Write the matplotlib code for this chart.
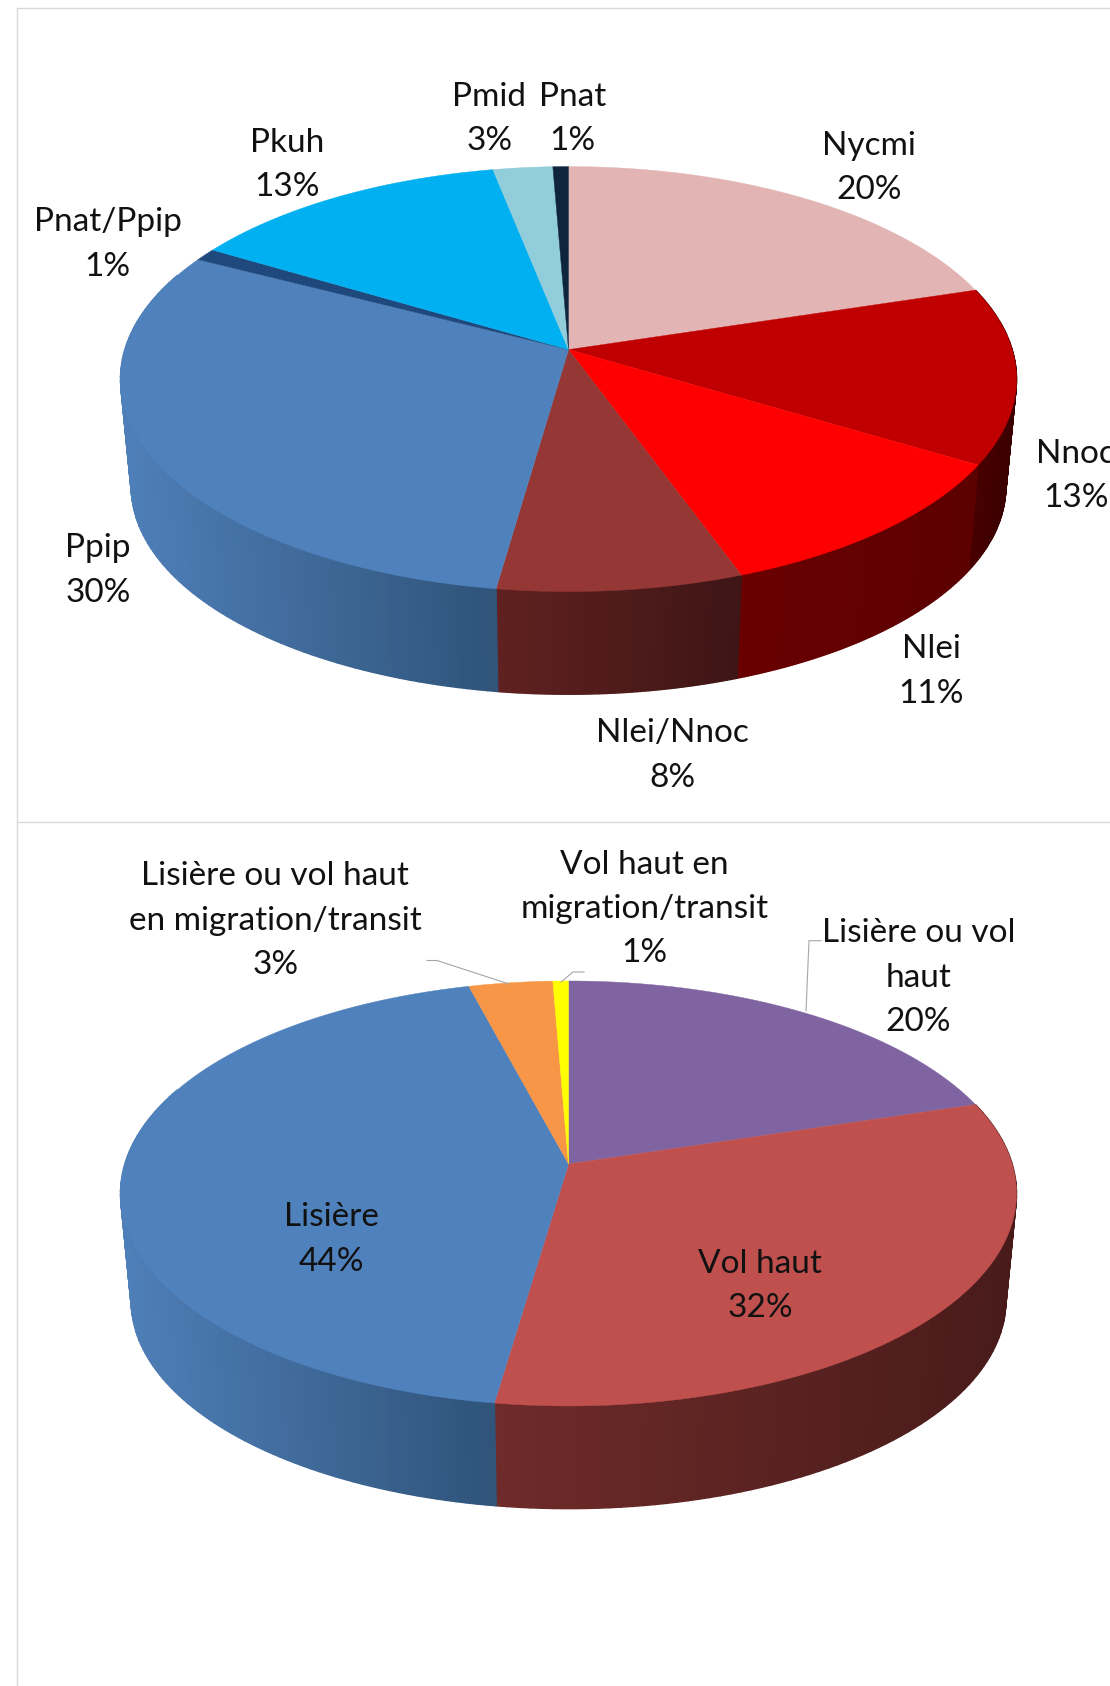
import numpy as np
import matplotlib
matplotlib.use("Agg")
import matplotlib.pyplot as plt
from matplotlib.colors import to_rgb

# first pie, species
species = ["Nycmi", "Nnoc", "Nlei", "Nlei/Nnoc", "Ppip", "Pnat/Ppip", "Pkuh", "Pmid", "Pnat"]
species_pct = [20.2, 13.4, 10.9, 7.75, 30.35, 0.95, 13.35, 2.46, 0.64]
species_txt = ["20%", "13%", "11%", "8%", "30%", "1%", "13%", "3%", "1%"]
species_col = ["#e2b4b4", "#c00000", "#ff0000", "#953735", "#4f81bd", "#1f497d", "#00b0f0", "#92cddc", "#0f243e"]
species_side = [None, ("#4c0000", "#3a0000"), ("#6a0000", "#5c0000"), ("#602120", "#3e1515"),
                ("#4f7fb8", "#2f5379"), None, None, None, None]
species_xy = [(808, 133), (1000, 419), (866, 601), (625, 679), (91, 507), (100, 204), (267, 130), (455, 87), (532, 87)]

# second pie, flight behaviour
flight = ["Lisière ou vol\nhaut", "Vol haut", "Lisière", "Lisière ou vol haut\nen migration/transit", "Vol haut en\nmigration/transit"]
flight_pct = [20.2, 32.1, 43.6, 3.46, 0.64]
flight_txt = ["20%", "32%", "44%", "3%", "1%"]
flight_col = ["#8064a2", "#c0504d", "#4f81bd", "#f79646", "#ffff00"]
flight_side = [None, ("#6e2b29", "#481b1a"), ("#4f7fb8", "#2f5379"), None, None]
flight_xy = [(854, 865), (707, 1172), (308, 1129), (256, 812), (599, 801)]

SCALE = 1110 / 1032  # label positions were read on the shrunk picture
LINE = 44.4
plt.rcParams['font.family'] = ['Lato', 'DejaVu Sans']

fig = plt.figure(figsize=(11.1, 16.86), dpi=100)
ax = fig.add_axes([0, 0, 1, 1])
ax.set_xlim(0, 1110)
ax.set_ylim(1686, 0)
ax.axis("off")

def project(theta, cy, scale=1.0, drop=0.0):
  # tilted circle with perspective, theta clockwise from the top in degrees
  t = np.radians(theta)
  k, a, b = 0.1387, 208.4, 443.7
  w = 1 + k * np.cos(t)
  return 568.5 + scale * b * np.sin(t) / w, cy + drop - scale * a * np.cos(t) / w

def mix(c1, c2, f):
  c1, c2 = np.array(to_rgb(c1)), np.array(to_rgb(c2))
  return tuple(c1 + (c2 - c1) * f)

def draw_pie(values, colors, sides, cy):
  edges = np.concatenate([[0], np.cumsum(values)]) / np.sum(values) * 360

  for i, side in enumerate(sides):  # rim first, top covers the rest
    if side is None: continue
    th = np.linspace(edges[i], min(edges[i + 1], 292), 90)
    xt, yt = project(th, cy)
    xb, yb = project(th, cy, 0.976, 108.5)
    x0, x1 = min(xt.min(), xb.min()), max(xt.max(), xb.max())
    for j in range(len(th) - 1):
      f = ((xt[j] + xt[j + 1]) / 2 - x0) / (x1 - x0)
      c = mix(side[0], side[1], f)
      ax.fill([xt[j], xt[j + 1], xb[j + 1], xb[j]], [yt[j], yt[j + 1], yb[j + 1], yb[j]],
              facecolor=c, edgecolor=c, linewidth=1.0, zorder=2)

  for i, c in enumerate(colors):
    th = np.linspace(edges[i], edges[i + 1], 120)
    x, y = project(th, cy)
    ax.fill(np.r_[568.5, x], np.r_[cy, y], facecolor=c, edgecolor=c, linewidth=0.3, zorder=3)

def draw_labels(names, pcts, places):
  for name, pct, (x, y) in zip(names, pcts, places):
    for n, row in enumerate(name.split("\n") + [pct]):
      ax.text(x * SCALE, y * SCALE + n * LINE + 12, row, ha="center", va="baseline",
              fontsize=24, color="#111111", zorder=5, clip_on=True)

# chart frames
ax.plot([17, 17, 1110], [1686, 7.5, 7.5], color="#d9d9d9", lw=1, zorder=1)
ax.plot([17, 1110], [821.7, 821.7], color="#d9d9d9", lw=1, zorder=1)

draw_pie(species_pct, species_col, species_side, 349.6)
draw_pie(flight_pct, flight_col, flight_side, 1164)
draw_labels(species, species_txt, species_xy)
draw_labels(flight, flight_txt, flight_xy)

# leader lines
ax.plot([427, 437, 509], [960.5, 960.5, 984], color="#a6a6a6", lw=0.8, zorder=4)
ax.plot([584, 573, 561], [972, 972, 982], color="#a6a6a6", lw=0.8, zorder=4)
ax.plot([821, 809, 806], [940.7, 940.7, 1011], color="#a6a6a6", lw=0.8, zorder=4)

fig.savefig("out.png", dpi=100, facecolor="white")
